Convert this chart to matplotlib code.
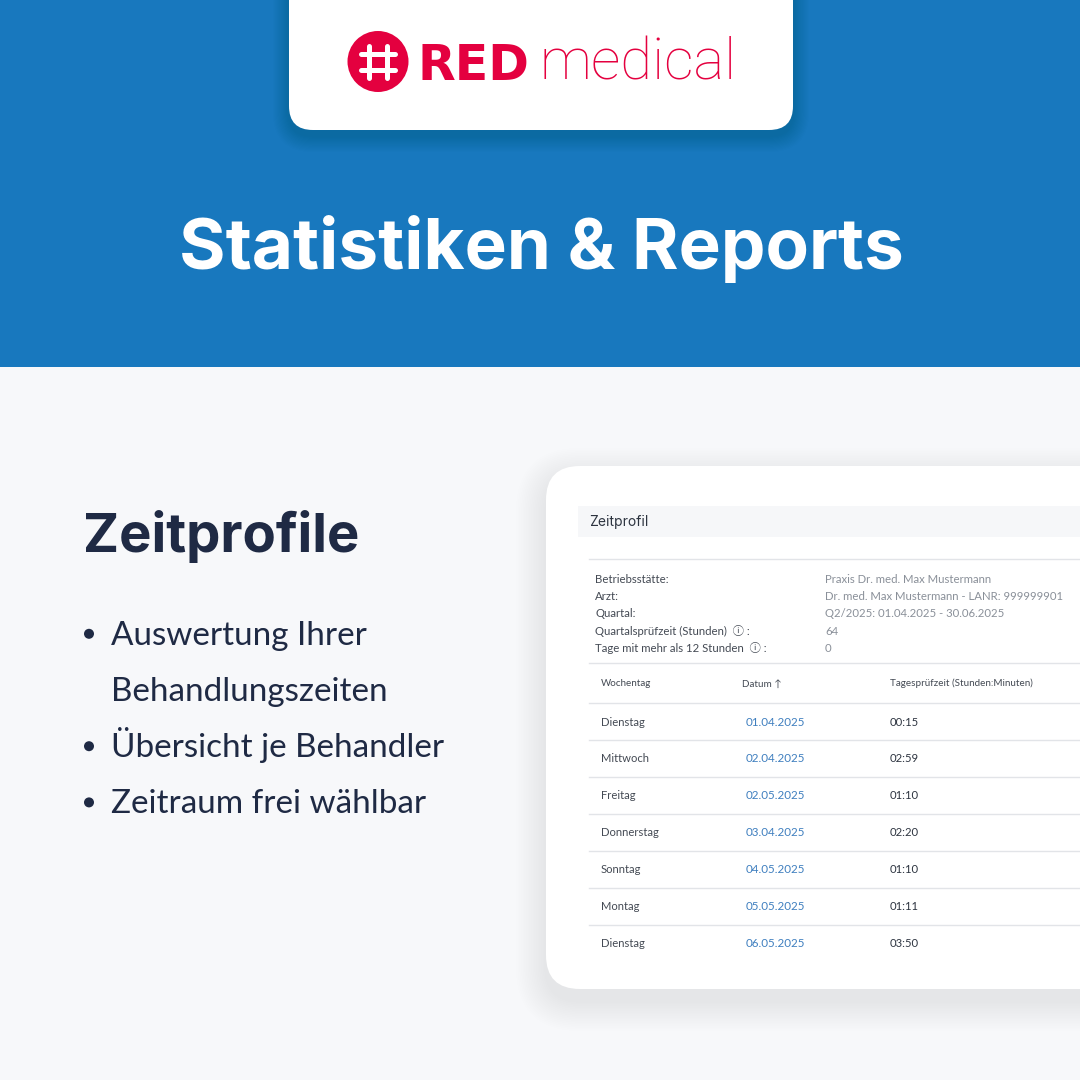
import matplotlib
matplotlib.use("Agg")
import matplotlib.pyplot as plt
from matplotlib.patches import FancyBboxPatch, Rectangle, Circle

BLUE = "#1878BE"
BG = "#F7F8FA"
NAVY = "#1F2A44"
RED = "#E4003F"
LINK = "#3F7FBF"

title = "Statistiken & Reports"
heading = "Zeitprofile"
bullets = ["Auswertung Ihrer", "Behandlungszeiten", "Übersicht je Behandler", "Zeitraum frei wählbar"]
bullet_marks = [True, False, True, True]
panel_title = "Zeitprofil"
info_labels = ["Betriebsstätte:", "Arzt:", "Quartal:", "Quartalsprüfzeit (Stunden)  ⓘ :", "Tage mit mehr als 12 Stunden  ⓘ :"]
info_values = ["Praxis Dr. med. Max Mustermann", "Dr. med. Max Mustermann - LANR: 999999901",
               "Q2/2025: 01.04.2025 - 30.06.2025", "64", "0"]
columns = ["Wochentag", "Datum ↑", "Tagesprüfzeit (Stunden:Minuten)"]
weekdays = ["Dienstag", "Mittwoch", "Freitag", "Donnerstag", "Sonntag", "Montag", "Dienstag"]
dates = ["01.04.2025", "02.04.2025", "02.05.2025", "03.04.2025", "04.05.2025", "05.05.2025", "06.05.2025"]
times = ["00:15", "02:59", "01:10", "02:20", "01:10", "01:11", "03:50"]

fig = plt.figure(figsize=(10.8, 10.8), dpi=100, facecolor=BG)
ax = fig.add_axes([0, 0, 1, 1])
ax.set_xlim(0, 1080)
ax.set_ylim(1080, 0)
ax.axis("off")

def px(s):
    return s * 0.72

def rbox(x0, y0, x1, y1, r, **kw):
    p = FancyBboxPatch((x0 + r, y0 + r), x1 - x0 - 2 * r, y1 - y0 - 2 * r,
                       boxstyle=f"round,pad={r},rounding_size={r}", linewidth=0, **kw)
    ax.add_patch(p)
    return p

def shadow(x0, y0, x1, y1, r, dy, spread, color, alpha, steps=14, z=2):
    for i in range(steps):
        s = spread * (1 - i / steps)
        rbox(x0 - s, y0 - s + dy, x1 + s, y1 + s + dy, r + s, fc=color, alpha=alpha, zorder=z)

# header band
ax.add_patch(Rectangle((0, 0), 1080, 367, fc=BLUE, lw=0, zorder=1))

# logo card
shadow(289, -40, 793, 130, 24, 6, 16, "#0B3A5E", 0.014)
rbox(289, -40, 793, 130, 24, fc="white", zorder=3)
ax.add_patch(Circle((378, 61.5), 30.5, fc=RED, lw=0, zorder=4))
for x in (368.5, 387):
    ax.plot([x, x], [45.5, 78], color="white", lw=3.6, solid_capstyle="round", zorder=5)
for y in (53.5, 69.5):
    ax.plot([360.5, 394.5], [y, y], color="white", lw=3.6, solid_capstyle="round", zorder=5)
ax.text(418, 80, "RED", family="DejaVu Sans", weight="bold", fontsize=px(49), color=RED, va="baseline", zorder=4)
ax.text(539, 80, "medical", family="Roboto", weight="light", fontsize=px(58), color=RED, va="baseline", zorder=4)

# title
ax.text(541, 269, title, family="Inter", weight="bold", fontsize=px(71), color="white",
        ha="center", va="baseline", zorder=4)

# left column
ax.text(83, 552, heading, family="Inter", weight="bold", fontsize=px(54.4), color=NAVY, va="baseline", zorder=4)
for i, (b, mark) in enumerate(zip(bullets, bullet_marks)):
    y = 644.8 + i * 56.2
    if mark:
        ax.add_patch(Circle((89, y - 11), 5, fc=NAVY, lw=0, zorder=4))
    ax.text(111, y, b, family="Lato", fontsize=px(33.3), color=NAVY, va="baseline", zorder=4)

# panel
shadow(546, 466, 1180, 989, 34, 12, 30, "#7A8699", 0.005, steps=18)
rbox(546, 466, 1180, 989, 34, fc="white", zorder=3)
ax.add_patch(Rectangle((578, 506), 502, 31, fc="#F6F7F9", lw=0, zorder=4))
ax.text(589.5, 526, panel_title, family="Inter", fontsize=px(13.9), color="#2D3440", va="baseline", zorder=5)

LINE = "#E2E4E8"
for y in (559, 663, 703):
    ax.plot([589, 1080], [y, y], color=LINE, lw=1, zorder=4)
TXT = "#444A54"
GREY = "#8A9099"
FAM = ["Lato", "Noto Sans CJK JP", "DejaVu Sans"]
for i, (l, v) in enumerate(zip(info_labels, info_values)):
    y = 583 + i * 17.2
    ax.text(595, y, l, family=FAM, fontsize=px(11.35), color=TXT, va="baseline", zorder=5)
    ax.text(825, y, v, family="Lato", fontsize=px(11.35), color=GREY, va="baseline", zorder=5)

for x, c in zip((601, 742, 890), columns):
    ax.text(x, 686.5, c, family=FAM, fontsize=px(9.9), color=TXT, va="baseline", zorder=5)

for i, (w, d, t) in enumerate(zip(weekdays, dates, times)):
    y = 725.5 + i * 36.95
    ax.text(601, y, w, family="Lato", fontsize=px(11.3), color=TXT, va="baseline", zorder=5)
    ax.text(746, y, d, family="Lato", fontsize=px(11.6), color=LINK, va="baseline", zorder=5)
    ax.text(890, y, t, family="Lato", fontsize=px(11.3), color="#2D3440", va="baseline", zorder=5)
    if i < len(weekdays) - 1:
        ax.plot([589, 1080], [y + 14.7, y + 14.7], color=LINE, lw=1, zorder=4)

fig.savefig("out.png", dpi=100, facecolor=BG)
